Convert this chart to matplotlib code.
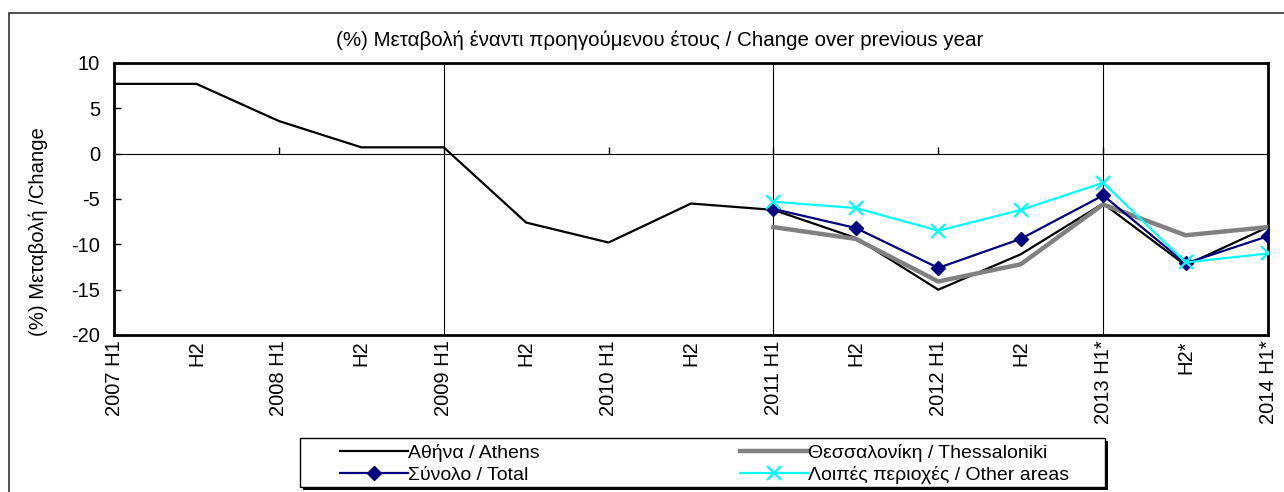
import matplotlib
matplotlib.use("Agg")
import matplotlib.pyplot as plt
import numpy as np
from matplotlib.patches import Rectangle

# half-year periods (x axis)
periods = ['2007 H1', 'H2', '2008 H1', 'H2', '2009 H1', 'H2', '2010 H1', 'H2',
           '2011 H1', 'H2', '2012 H1', 'H2', '2013 H1*', 'H2*', '2014 H1*']
nan = np.nan
athens       = [7.7, 7.7, 3.6, 0.7, 0.7, -7.6, -9.8, -5.5, -6.2, -9.3, -15.0, -11.1, -5.5, -12.3, -8.1]
thessaloniki = [nan]*8 + [-8.1, -9.4, -14.1, -12.2, -5.6, -9.0, -8.1]
total        = [nan]*8 + [-6.1, -8.2, -12.6, -9.4, -4.6, -12.1, -9.1]
other        = [nan]*8 + [-5.3, -6.0, -8.5, -6.2, -3.2, -12.0, -11.0]

names = ['Αθήνα / Athens', 'Θεσσαλονίκη / Thessaloniki', 'Σύνολο / Total',
         'Λοιπές περιοχές / Other areas']

plt.rcParams.update({'font.family': ['Liberation Sans', 'DejaVu Sans'], 'font.size': 13,
                     'axes.unicode_minus': False})

W, H = 1284, 492
fig = plt.figure(figsize=(W/100, H/100), dpi=100)
ax = fig.add_axes([114/W, 1-335/H, (1268-114)/W, (335-63)/H])
x = np.arange(len(periods))

l_ath, = ax.plot(x, athens, color='black', lw=1.6, zorder=3)
l_the, = ax.plot(x, thessaloniki, color='#808080', lw=3.2, zorder=3)
l_tot, = ax.plot(x, total, color='#000080', lw=1.6, marker='D', ms=7, zorder=4)
l_oth, = ax.plot(x, other, color='#00FFFF', lw=1.6, marker='x', ms=10, mew=1.6, zorder=5)

ax.set_xlim(0, len(periods)-1)
ax.set_ylim(-20, 10)
ax.set_yticks(np.arange(-20, 11, 5))
ax.tick_params(axis='y', direction='in', length=5, width=1, labelsize=14.5, pad=10)
ax.set_xticks(x)
ax.set_xticklabels(periods, rotation=90, fontsize=14.5, va='top')
ax.tick_params(axis='x', length=0, pad=4)
for s in ax.spines.values():
    s.set_linewidth(2)

# vertical gridlines every two years
for g in x[4::4]:
    ax.axvline(g, color='black', lw=0.8, zorder=1)

# zero line as category axis with ticks every year
sec = ax.secondary_xaxis(2/3)
sec.set_xticks(x[::2])
sec.set_xticklabels([])
sec.tick_params(direction='out', length=5, width=1)
sec.spines['bottom'].set_linewidth(1)

fig.text(660/W, 1-40/H, '(%) Μεταβολή έναντι προηγούμενου έτους / Change over previous year',
         ha='center', va='center', fontsize=14.8)
fig.text(38/W, 1-232/H, '(%) Μεταβολή /Change', rotation=90, ha='center', va='center',
         fontsize=14.6)

# outer chart border (only top/left visible)
fig.patches.append(Rectangle((9/W, -0.1), 1.2, 1-13/H+0.1, transform=fig.transFigure,
                             fill=False, ec='#333333', lw=1.2))

# legend box with shadow
fig.patches.append(Rectangle((303/W, 1-490/H), 805/W, 49/H, transform=fig.transFigure,
                             fc='black', ec='black', lw=0))
fig.patches.append(Rectangle((300/W, 1-487/H), 805/W, 49/H, transform=fig.transFigure,
                             fc='white', ec='black', lw=1))

leg = fig.legend([l_ath, l_tot, l_the, l_oth], [names[0], names[2], names[1], names[3]],
                 ncol=2, loc='upper left', bbox_to_anchor=(340/W, 1-444/H),
                 frameon=False, fontsize=14, handlelength=3.5, handletextpad=0.0,
                 columnspacing=10.3, labelspacing=0.22, borderpad=0, borderaxespad=0)

fig.savefig('out.png', dpi=100)
